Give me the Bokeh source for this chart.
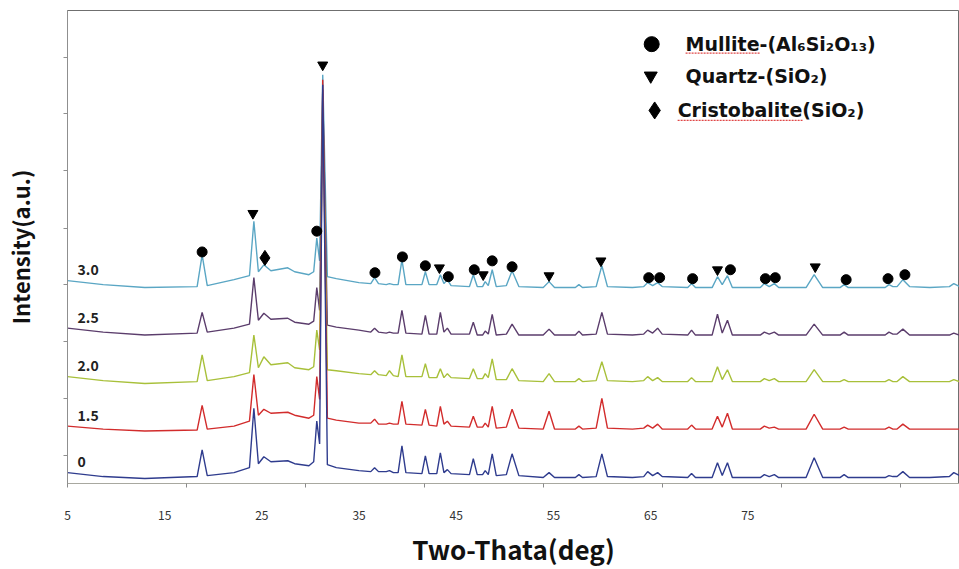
from bokeh.plotting import figure
from bokeh.models import ColumnDataSource, FixedTicker, LinearAxis, Range1d
from bokeh.core.properties import value
from bokeh.embed import file_html
from bokeh.resources import INLINE

# 2-theta positions (deg) shared by all patterns
two_theta = [5.0, 8.0, 11.5, 15.9, 16.32, 16.75, 19.0, 20.3, 20.67, 21.05,
             21.51, 22.1, 23.52, 24.1, 25.3, 25.7, 25.96, 26.2, 26.46, 26.85,
             27.6, 29.5, 30.5, 30.82, 31.15, 31.8, 32.07, 32.4, 32.8, 33.12,
             33.45, 34.8, 35.09, 35.4, 36.05, 36.35, 36.65, 36.94, 37.25, 38.8,
             39.12, 39.45, 39.9, 40.12, 40.38, 40.71, 41.05, 41.9, 42.38, 42.95,
             45.0, 45.49, 45.95, 47.7, 48.0, 48.3, 49.45, 49.93, 50.4, 52.5,
             53.45, 53.78, 54.2, 54.62, 55.0, 57.15, 57.47, 57.8, 59.2, 59.65,
             60.05, 60.49, 60.9, 63.25, 63.59, 64.0, 64.43, 64.8, 67.1, 67.78,
             68.5, 69.95, 70.3, 70.65, 73.75, 74.07, 74.4, 74.75, 75.24, 75.8,
             77.5, 79.15, 79.52, 80.0]

# stacked intensities (a.u.) of each pattern
int_30 = [205, 201, 198, 199, 231, 200, 206, 210, 265, 214,
          221, 215, 218, 214, 211, 214, 248, 225, 413, 209,
          207, 203, 202, 208, 202, 201, 202, 201, 201, 226,
          201, 201, 214, 201, 201, 211, 202, 206, 200, 199,
          211, 199, 199, 204, 200, 216, 199, 200, 215, 199,
          198, 204, 198, 198, 201, 198, 199, 220, 199, 198,
          199, 203, 200, 203, 199, 198, 202, 198, 198, 209,
          201, 210, 198, 198, 202, 199, 202, 198, 198, 211,
          198, 198, 201, 198, 198, 201, 199, 199, 206, 199,
          198, 199, 202, 199]
int_25 = [157, 153, 150, 152, 173, 153, 157, 161, 208, 165,
          172, 166, 167, 163, 161, 164, 198, 175, 398, 160,
          158, 155, 153, 157, 153, 152, 153, 152, 152, 175,
          152, 151, 170, 151, 151, 173, 153, 157, 151, 151,
          163, 150, 150, 154, 151, 171, 150, 151, 161, 150,
          150, 156, 150, 150, 154, 150, 151, 173, 151, 150,
          151, 155, 152, 157, 151, 150, 155, 150, 150, 171,
          152, 165, 150, 150, 153, 151, 153, 150, 150, 161,
          150, 150, 153, 150, 150, 153, 151, 151, 156, 150,
          150, 150, 152, 150]
int_20 = [108, 104, 101, 103, 130, 104, 108, 112, 150, 117,
          128, 120, 122, 117, 115, 118, 155, 135, 388, 115,
          114, 111, 110, 114, 110, 109, 114, 109, 108, 130,
          108, 108, 121, 107, 107, 116, 107, 111, 107, 106,
          116, 106, 106, 111, 107, 126, 105, 105, 116, 104,
          103, 111, 103, 103, 106, 103, 104, 123, 104, 103,
          104, 108, 104, 107, 103, 103, 107, 103, 103, 118,
          105, 115, 103, 103, 106, 104, 106, 103, 103, 115,
          103, 103, 105, 103, 103, 105, 103, 103, 108, 103,
          103, 103, 105, 103]
int_15 = [58, 55, 53, 54, 79, 55, 58, 63, 110, 69,
          75, 71, 72, 69, 66, 69, 108, 85, 408, 66,
          64, 61, 61, 65, 60, 60, 61, 60, 60, 83,
          60, 59, 75, 59, 58, 78, 60, 63, 58, 57,
          68, 57, 57, 61, 57, 78, 56, 57, 75, 56,
          55, 73, 55, 55, 58, 55, 56, 86, 56, 55,
          56, 59, 56, 60, 55, 55, 59, 55, 55, 68,
          57, 71, 55, 55, 58, 56, 57, 55, 55, 70,
          55, 55, 57, 55, 55, 57, 55, 55, 60, 55,
          55, 55, 55, 55]
int_0 = [11, 7, 5, 7, 34, 8, 11, 16, 76, 20,
         27, 22, 23, 20, 18, 22, 63, 40, 403, 19,
         16, 13, 12, 16, 12, 12, 13, 11, 11, 38,
         11, 10, 28, 10, 10, 31, 11, 14, 10, 9,
         25, 9, 9, 13, 9, 30, 8, 9, 30, 8,
         6, 11, 6, 6, 9, 6, 7, 30, 7, 6,
         7, 12, 8, 11, 7, 6, 10, 6, 6, 21,
         8, 21, 6, 6, 9, 7, 9, 6, 6, 26,
         6, 6, 9, 6, 6, 8, 7, 7, 12, 6,
         6, 7, 11, 8]

series_names = ["3.0", "2.5", "2.0", "1.5", "0"]
series_values = [int_30, int_25, int_20, int_15, int_0]
series_colors = ["#5aa6c4", "#5b3d6c", "#a8c03a", "#d22c2c", "#2f3c8e"]

# phase identification markers (2-theta, marker height)
mullite_x = [16.32, 25.96, 30.85, 33.16, 35.09, 37.02, 39.2, 40.71, 42.38,
             53.87, 54.79, 57.56, 60.74, 63.68, 64.51, 70.47, 73.99, 75.41]
mullite_y = [234, 255, 213, 229, 220, 209, 216, 225, 219,
             208, 208, 207, 216, 207, 208, 206, 207, 211]
quartz_x = [20.59, 26.46, 36.27, 39.95, 45.49, 49.85, 59.65, 67.87]
quartz_y = [273, 423, 218, 211, 210, 225, 216, 219]
cristobalite_x = [21.6]
cristobalite_y = [228]

x_tick_labels = [5, 15, 25, 35, 45, 55, 65, 75]
x_tick_marks = [5, 15, 25, 35, 45, 55, 65, 75]
y_tick_marks = [28, 86, 143, 201, 258, 316, 374, 431]

TITLE_FONT = "Noto Sans CJK KR"

p = figure(width=959, height=569,
           x_range=Range1d(5, 80), y_range=Range1d(0, 478),
           output_backend="svg", toolbar_location=None,
           min_border_left=66, min_border_right=0,
           min_border_top=10, min_border_bottom=81)
p.background_fill_color = "white"
p.border_fill_color = "white"
p.outline_line_color = "#6f6f6f"
p.xgrid.visible = False
p.ygrid.visible = False

# bottom axis carrying the tick marks only
xa = p.xaxis[0]
xa.ticker = FixedTicker(ticks=x_tick_marks)
xa.major_label_overrides = {t: "" for t in x_tick_marks}
xa.major_label_standoff = 0
xa.major_tick_out = 4
xa.major_tick_in = 0
xa.minor_tick_line_color = None
xa.axis_line_color = "#a8a8a0"
xa.major_tick_line_color = "#8a8a8a"

# second bottom axis carrying the printed labels
p.extra_x_ranges = {"label_scale": Range1d(5, 96.78)}
lab_axis = LinearAxis(x_range_name="label_scale",
                      ticker=FixedTicker(ticks=x_tick_labels),
                      axis_line_color=None, major_tick_line_color=None,
                      minor_tick_line_color=None,
                      major_label_standoff=17,
                      major_label_text_font=TITLE_FONT,
                      major_label_text_font_size="12px",
                      major_label_text_color="#333333",
                      axis_label="Two-Thata(deg)",
                      axis_label_text_font=TITLE_FONT,
                      axis_label_text_font_style="bold",
                      axis_label_text_font_size="26px",
                      axis_label_text_color="#111111",
                      axis_label_standoff=7)
p.add_layout(lab_axis, "below")

ya = p.yaxis[0]
ya.ticker = FixedTicker(ticks=y_tick_marks)
ya.major_label_overrides = {t: "" for t in y_tick_marks}
ya.major_label_standoff = 0
ya.major_tick_out = 4
ya.major_tick_in = 0
ya.minor_tick_line_color = None
ya.axis_line_color = "#8f8f8f"
ya.major_tick_line_color = "#8f8f8f"
ya.axis_label = "Intensity(a.u.)"
ya.axis_label_text_font = TITLE_FONT
ya.axis_label_text_font_style = "bold"
ya.axis_label_text_font_size = "22px"
ya.axis_label_text_color = "#111111"
ya.axis_label_standoff = 28

for name, vals, col in zip(series_names, series_values, series_colors):
    src = ColumnDataSource(dict(x=two_theta, y=vals))
    p.line("x", "y", source=src, line_color=col, line_width=1.4)

# sample labels at the start of each pattern
p.text(x=[5.85] * len(series_names), y=[v[0] + 11 for v in series_values],
       text=series_names, text_font=value(TITLE_FONT), text_font_style="bold",
       text_font_size="14px", text_color="#222222",
       text_align="left", text_baseline="middle")

# phase markers
p.scatter(mullite_x, mullite_y, marker="circle", size=10, color="black")
p.scatter(quartz_x, quartz_y, marker="inverted_triangle", size=10, color="black")
p.scatter(cristobalite_x, cristobalite_y, marker="diamond", size=15, color="black")

# phase key
key_marker_x = [54.12, 54.04, 54.37]
key_marker_y = [444, 412, 377]
key_markers = ["circle", "inverted_triangle", "diamond"]
key_sizes = [15, 13, 17]
key_text_x = [56.97, 56.97, 56.3]
key_text = ["Mullite-(Al\u2086Si\u2082O\u2081\u2083)", "Quartz-(SiO\u2082)",
            "Cristobalite(SiO\u2082)"]
for mx, my, mk, ms in zip(key_marker_x, key_marker_y, key_markers, key_sizes):
    p.scatter([mx], [my], marker=mk, size=ms, color="black")
p.text(x=key_text_x, y=key_marker_y, text=key_text,
       text_font=value("DejaVu Sans"), text_font_style="bold",
       text_font_size="19px", text_color="#111111",
       text_align="left", text_baseline="middle")

# spell-check style underlines beneath two of the key words
squiggle_x0 = [56.97, 56.3]
squiggle_x1 = [63.2, 66.8]
squiggle_y = [435, 367]
p.segment(x0=squiggle_x0, y0=squiggle_y, x1=squiggle_x1, y1=squiggle_y,
          line_color="#e04848", line_width=1.2, line_dash="2 1")

open("out.html", "w").write(file_html(p, INLINE))
